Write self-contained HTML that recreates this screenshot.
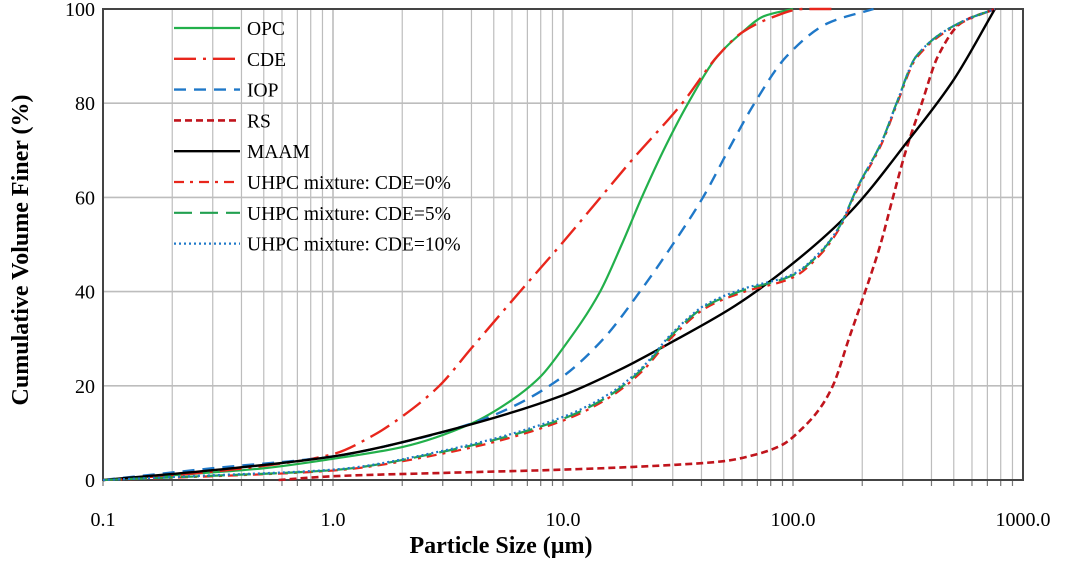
<!DOCTYPE html>
<html><head><meta charset="utf-8">
<style>
body{margin:0;background:#fff;}
svg{display:block;font-family:"Liberation Serif",serif;}
</style></head>
<body>
<svg id="chart" width="1066" height="574" viewBox="0 0 1066 574">
<g id="grid"></g>
<g id="axes"></g>
<g id="series"></g>
<g id="legend"></g>
<text x="0" y="0" transform="translate(28,250) rotate(-90)" text-anchor="middle" font-size="24" font-weight="bold">Cumulative Volume Finer (%)</text>
<text x="501" y="553" text-anchor="middle" font-size="24" font-weight="bold">Particle Size (µm)</text>
</svg>
<script>
const xTicks=[0.1,1,10,100,1000];
const xTickLabels=["0.1","1.0","10.0","100.0","1000.0"];
const yTicks=[0,20,40,60,80,100];
const seriesNames=["OPC","CDE","IOP","RS","MAAM","UHPC mixture: CDE=0%","UHPC mixture: CDE=5%","UHPC mixture: CDE=10%"];
const opc=[[0.1,0],[0.2,1],[0.5,2.5],[1,4.5],[2,7],[4,12],[6,17],[8,22],[10,28],[14.5,40],[18,50],[22,60],[28,71],[35,80],[47,90],[60,95],[75,98.5],[100,100]];
const cde=[[0.1,0],[0.2,1],[0.5,3],[1,5.5],[1.5,9.5],[2,13.5],[2.9,20],[4,28],[6.5,40],[10,50.5],[14,59],[20,68],[33,80],[47,90],[60,95],[79,98],[110,100],[150,100]];
const iop=[[0.1,0],[0.3,2.5],[1,5],[2,8],[4,12],[6,15.5],[10,22],[15,30],[21.6,40],[30,50],[40.6,60],[55,72],[68,80],[94,90],[142,97],[224,100]];
const rs=[[0.58,0],[1,0.8],[3,1.5],[10,2.2],[30,3.2],[50,4],[70,5.5],[90,7.5],[110,11],[130,15],[149,20],[175,30],[206,40],[240,50],[272,60],[310,70],[363,80],[427,90],[537,97],[755,100]];
const maam=[[0.1,0],[0.316,2.2],[1,5],[3.16,10.5],[10,18],[17.8,23.5],[31.6,30],[56,37],[100,46],[178,57],[316,72],[500,85],[755,100]];
const uhpc0=[[0.1,0],[0.3,0.8],[1,2],[3,5.6],[10,12.6],[16,17.6],[22,23],[30,30.5],[42,36.6],[60,39.8],[100,43],[130,47.6],[160,53.6],[190,61.6],[244,71.6],[282,79.6],[344,89.6],[537,97],[755,100]];
const uhpc5=[[0.1,0],[0.3,0.9],[1,2.1],[3,6],[10,13],[16,18],[22,23.5],[30,31],[42,37],[60,40.2],[100,43.5],[130,48],[160,54],[190,62],[244,72],[282,80],[344,90],[537,97.2],[755,100]];
const uhpc10=[[0.1,0],[0.3,1],[1,2.2],[3,6.2],[10,13.4],[16,18.4],[22,23.8],[30,31.3],[42,37.3],[60,40.5],[100,43.7],[130,48.2],[160,54],[190,62],[244,72],[282,80],[344,90],[537,97.2],[755,100]];

const L=103,R=1023,T=9,B=480;
const NS="http://www.w3.org/2000/svg";
function xs(v){return L+(Math.log10(v)+1)/4*(R-L);}
function ys(v){return B-v/100*(B-T);}
function mk(tag,attrs,parent){const e=document.createElementNS(NS,tag);for(const k in attrs)e.setAttribute(k,attrs[k]);parent.appendChild(e);return e;}
const grid=document.getElementById('grid'),axes=document.getElementById('axes'),ser=document.getElementById('series'),leg=document.getElementById('legend');
for(let d=-1;d<3;d++){for(let m=1;m<=9;m++){const v=m*Math.pow(10,d);const x=xs(v);
 const ln=mk('line',{x1:x,x2:x,y1:T,y2:B,stroke:'#bdbdbd','stroke-width':m==1?1.6:1.2},grid);
 
 
 const tk=mk('line',{x1:x,x2:x,y1:B,y2:B+6,stroke:'#777','stroke-width':1.2},axes);
 
 }}
yTicks.forEach(v=>{const y=ys(v);
 const ln=mk('line',{x1:L,x2:R,y1:y,y2:y,stroke:'#bdbdbd','stroke-width':1.6},grid);
 
 
 const t=mk('text',{x:L-8,y:y+7,'text-anchor':'end','font-size':20},axes);t.textContent=v;
 
 });
xTicks.forEach((v,i)=>{const t=mk('text',{x:xs(v),y:526,'text-anchor':'middle','font-size':20},axes);t.textContent=xTickLabels[i];
 
 });
const fr=mk('rect',{x:L,y:T,width:R-L,height:B-T,fill:'none',stroke:'#444','stroke-width':2},axes);


function pathD(data){const p=data.map(d=>[xs(d[0]),ys(d[1])]);const n=p.length;
 const dx=[],sl=[];for(let i=0;i<n-1;i++){dx.push(p[i+1][0]-p[i][0]);sl.push((p[i+1][1]-p[i][1])/dx[i]);}
 const m=new Array(n);m[0]=sl[0];m[n-1]=sl[n-2];
 for(let i=1;i<n-1;i++){if(sl[i-1]*sl[i]<=0)m[i]=0;else{const w1=2*dx[i]+dx[i-1],w2=dx[i]+2*dx[i-1];m[i]=(w1+w2)/(w1/sl[i-1]+w2/sl[i]);}}
 let s=`M${p[0][0]},${p[0][1]}`;
 for(let i=0;i<n-1;i++){const h=dx[i]/3;
  s+=` C${p[i][0]+h},${p[i][1]+m[i]*h} ${p[i+1][0]-h},${p[i+1][1]-m[i+1]*h} ${p[i+1][0]},${p[i+1][1]}`;}
 return s;}
const styles=[
 {d:opc,c:'#22b04b',da:'',w:2.2,n:'opc-line'},
 {d:cde,c:'#e8261c',da:'22 7 3 7',w:2.4,n:'cde-line'},
 {d:iop,c:'#1f78c8',da:'12 8',w:2.4,n:'iop-line'},
 {d:rs,c:'#c0141c',da:'7 4',w:2.6,n:'rs-line'},
 {d:maam,c:'#000',da:'',w:2.4,n:'maam-line'},
 {d:uhpc0,c:'#e8261c',da:'10 6 3 6',w:2.2,n:'uhpc-cde0-line'},
 {d:uhpc5,c:'#22a050',da:'18 8',w:2.2,n:'uhpc-cde5-line'},
 {d:uhpc10,c:'#1f78c8',da:'2 3',w:2.2,n:'uhpc-cde10-line'}];
styles.forEach((s,i)=>{
 const p=mk('path',{d:pathD(s.d),fill:'none',stroke:s.c,'stroke-width':s.w,'stroke-dasharray':s.da},ser);
 
 
 const y=28+i*30.8;
 const g=mk('g',{},leg);
 
 
 mk('line',{x1:174,x2:240,y1:y,y2:y,stroke:s.c,'stroke-width':s.w,'stroke-dasharray':s.da},g);
 const t=mk('text',{x:247,y:y+7,'font-size':19.5},g);t.textContent=seriesNames[i];});
</script>
</body></html>
